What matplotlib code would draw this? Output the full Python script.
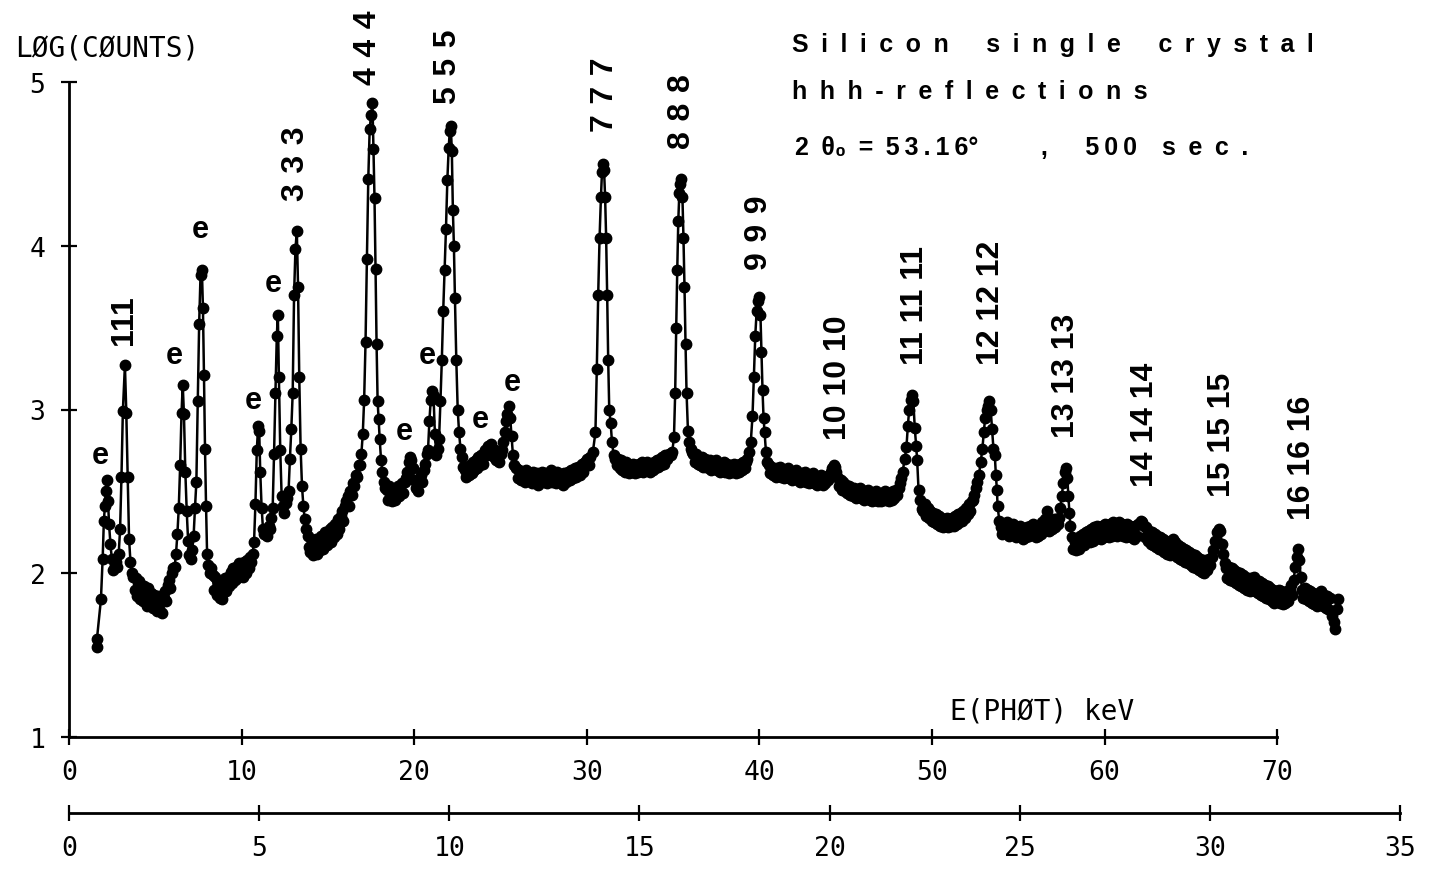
import matplotlib
matplotlib.use("Agg")
import matplotlib.pyplot as plt
from matplotlib import font_manager as fm

# ---------------- data: (E [keV], log10 counts) ----------------
seg_low = [(1.60,1.55),(1.62,1.60),(1.85,1.84),(1.95,2.09),(2.02,2.32),(2.08,2.41),(2.14,2.50),(2.20,2.57),
           (2.26,2.44),(2.32,2.30),(2.40,2.18),(2.48,2.09),(2.56,2.02),(2.64,2.05),(2.72,2.07),(2.80,2.04),
           (2.88,2.12),(2.96,2.27),(3.04,2.59),(3.12,2.99),(3.24,3.27),(3.32,2.98),(3.40,2.59),(3.48,2.21),
           (3.56,2.07),(3.64,2.00),
           (3.72,1.98),(3.80,1.90),(3.88,1.97),(3.96,1.86),(4.04,1.95),(4.12,1.84),(4.20,1.93),(4.28,1.83),
           (4.36,1.92),(4.44,1.86),(4.52,1.80),(4.60,1.91),(4.68,1.82),(4.76,1.88),(4.84,1.79),(4.92,1.87),
           (5.00,1.81),(5.08,1.77),(5.16,1.86),(5.24,1.78),(5.32,1.84),(5.40,1.76),(5.48,1.85),(5.56,1.89),
           (5.64,1.83),(5.72,1.93),(5.80,1.96),(5.88,1.91),(5.96,2.00),(6.04,2.03),(6.12,2.04),(6.20,2.12),
           (6.28,2.24),(6.36,2.40),(6.44,2.66),(6.52,2.98),(6.59,3.15),(6.66,2.97),(6.74,2.62),(6.82,2.38),
           (6.90,2.20),(6.98,2.11),(7.06,2.09),(7.14,2.14),
           (7.22,2.23),(7.30,2.40),(7.38,2.56),(7.46,3.05),(7.54,3.52),(7.62,3.82),(7.70,3.85),(7.76,3.62),
           (7.82,3.21),(7.88,2.76),(7.94,2.41),(8.00,2.12),(8.08,2.05),(8.16,2.00),(8.24,2.03)]

seg_333 = [(8.32,1.99),(8.40,1.90),(8.48,1.98),(8.56,1.87),(8.64,1.95),(8.72,1.85),(8.80,1.93),(8.88,1.84),
           (8.96,1.91),(9.04,1.97),(9.12,1.89),(9.20,1.98),(9.28,1.92),(9.36,2.01),(9.44,1.94),(9.52,2.03),
           (9.60,1.96),(9.68,2.04),(9.76,1.97),(9.84,2.06),(9.92,1.99),(10.00,2.05),(10.08,1.98),(10.16,2.07),
           (10.24,2.00),(10.32,2.08),(10.40,2.03),(10.48,2.10),(10.56,2.07),
           (10.64,2.12),(10.72,2.19),(10.80,2.42),(10.88,2.75),(10.96,2.90),(11.02,2.87),(11.08,2.62),(11.16,2.40),
           (11.24,2.27),(11.32,2.24),(11.40,2.26),(11.48,2.23),(11.56,2.29),(11.64,2.27),(11.72,2.34),(11.80,2.40),
           (11.88,2.73),(11.96,3.10),(12.04,3.45),(12.10,3.58),(12.16,3.20),(12.24,2.75),(12.32,2.47),(12.40,2.41),
           (12.48,2.37),(12.56,2.43),(12.64,2.46),(12.72,2.50),(12.80,2.70),(12.88,2.88),(12.96,3.10),(13.04,3.70),
           (13.12,3.98),(13.20,4.09),(13.27,3.75),(13.34,3.20),(13.42,2.76),(13.50,2.53),(13.58,2.41),(13.66,2.33),
           (13.74,2.27)]

seg_444 = [(13.82,2.23),(13.90,2.16),(13.98,2.13),(14.06,2.19),(14.14,2.11),(14.22,2.17),(14.30,2.21),(14.38,2.12),
           (14.46,2.19),(14.54,2.14),(14.62,2.23),(14.70,2.15),(14.78,2.22),(14.86,2.25),(14.94,2.17),(15.02,2.24),
           (15.10,2.27),(15.18,2.19),(15.26,2.28),(15.34,2.22),(15.42,2.30),(15.50,2.24),(15.58,2.33),(15.66,2.27),
           (15.74,2.35),(15.82,2.38),(15.90,2.32),(15.98,2.41),(16.06,2.44),(16.14,2.47),(16.22,2.41),(16.30,2.50),
           (16.38,2.48),(16.46,2.55),(16.54,2.53),(16.62,2.60),(16.70,2.59),(16.78,2.66),(16.86,2.66),
           (16.94,2.73),(17.02,2.85),(17.10,3.06),(17.18,3.41),(17.26,3.92),(17.34,4.41),(17.42,4.71),(17.50,4.80),
           (17.58,4.87),(17.64,4.59),(17.70,4.29),(17.76,3.86),(17.82,3.40),(17.88,3.05),(17.94,2.94),(18.00,2.82),
           (18.08,2.69),(18.16,2.62),(18.24,2.56),(18.32,2.52)]

seg_555 = [(18.40,2.51),(18.48,2.45),(18.56,2.53),(18.64,2.46),(18.72,2.44),(18.80,2.51),(18.88,2.45),(18.96,2.50),
           (19.04,2.53),(19.12,2.47),(19.20,2.52),(19.28,2.55),(19.36,2.49),(19.44,2.56),(19.52,2.58),(19.60,2.62),
           (19.68,2.68),(19.76,2.71),(19.84,2.69),(19.92,2.64),(20.00,2.57),(20.08,2.52),(20.16,2.57),(20.24,2.50),
           (20.32,2.56),(20.40,2.60),(20.48,2.56),(20.56,2.63),(20.64,2.67),(20.72,2.73),
           (20.80,2.75),(20.88,2.93),(20.96,3.06),(21.04,3.11),(21.12,3.08),(21.20,2.85),(21.28,2.72),(21.36,2.76),
           (21.44,2.82),(21.52,3.05),(21.60,3.30),(21.68,3.60),(21.76,3.85),(21.84,4.10),(21.92,4.40),(22.00,4.60),
           (22.06,4.70),(22.12,4.73),(22.18,4.58),(22.24,4.22),(22.30,4.00),(22.36,3.68),(22.44,3.30),(22.52,3.00),
           (22.60,2.86),(22.68,2.76),
           (22.76,2.71),(22.84,2.65),(22.92,2.63),(23.00,2.59),(23.08,2.65),(23.16,2.60),(23.24,2.66),(23.32,2.61),
           (23.40,2.68),(23.48,2.63),(23.56,2.69),(23.64,2.64),(23.72,2.71),(23.80,2.66),(23.88,2.72),(23.96,2.67),
           (24.04,2.73),(24.12,2.75),(24.20,2.72),(24.28,2.78),(24.36,2.73),(24.44,2.79),(24.52,2.75),(24.60,2.71),
           (24.68,2.75),(24.76,2.69),(24.84,2.73),(24.92,2.68),(25.00,2.73),(25.08,2.75),(25.16,2.80),
           (25.24,2.86),(25.32,2.93),(25.40,2.97),(25.48,3.02),(25.56,2.95),(25.64,2.84),(25.72,2.72),(25.80,2.66)]

seg_777 = [(25.90,2.64),(26.00,2.58),(26.10,2.63),(26.20,2.57),(26.30,2.62),(26.40,2.56),(26.50,2.63),(26.60,2.57),
           (26.70,2.61),(26.80,2.55),(26.90,2.62),(27.00,2.56),(27.10,2.61),(27.20,2.54),(27.30,2.60),(27.40,2.62),
           (27.50,2.56),(27.60,2.61),(27.70,2.55),(27.80,2.60),(27.90,2.63),(28.00,2.56),(28.10,2.61),(28.20,2.55),
           (28.30,2.62),(28.40,2.57),(28.50,2.60),(28.60,2.54),(28.70,2.61),(28.80,2.56),(28.90,2.62),(29.00,2.57),
           (29.10,2.63),(29.20,2.58),(29.30,2.64),(29.40,2.59),(29.50,2.65),(29.60,2.60),(29.70,2.67),(29.80,2.62),
           (29.90,2.68),(30.00,2.70),(30.10,2.66),(30.20,2.71),
           (30.35,2.74),(30.50,2.86),(30.58,3.25),(30.66,3.70),(30.74,4.05),(30.82,4.30),(30.88,4.45),(30.94,4.50),
           (31.00,4.46),(31.06,4.30),(31.12,4.05),(31.18,3.70),(31.24,3.30),(31.30,3.00),(31.38,2.92),(31.46,2.80),
           (31.56,2.72)]

seg_888 = [(31.66,2.70),(31.74,2.66),(31.82,2.70),(31.90,2.64),(31.98,2.69),(32.06,2.63),(32.14,2.67),(32.22,2.62),
           (32.30,2.68),(32.38,2.63),(32.46,2.61),(32.54,2.66),(32.62,2.62),(32.70,2.67),(32.78,2.61),(32.86,2.66),
           (32.94,2.62),(33.02,2.67),(33.10,2.63),(33.18,2.68),(33.26,2.62),(33.34,2.67),(33.42,2.63),(33.50,2.68),
           (33.58,2.64),(33.66,2.62),(33.74,2.67),(33.82,2.63),(33.90,2.68),(33.98,2.64),(34.06,2.69),(34.14,2.65),
           (34.22,2.70),(34.30,2.66),(34.38,2.71),(34.46,2.67),(34.54,2.72),(34.62,2.70),(34.74,2.73),(34.86,2.72),
           (34.95,2.74),(35.05,2.83),(35.12,3.10),(35.18,3.50),(35.24,3.85),(35.30,4.15),(35.36,4.32),(35.42,4.38),
           (35.48,4.41),(35.54,4.30),(35.60,4.05),(35.66,3.75),(35.72,3.40),(35.78,3.10),(35.86,2.87),(35.94,2.80),
           (36.02,2.76),(36.10,2.74)]

seg_999 = [(36.18,2.73),(36.26,2.68),(36.34,2.73),(36.42,2.67),(36.50,2.71),(36.58,2.66),(36.66,2.71),(36.74,2.65),
           (36.82,2.70),(36.90,2.65),(36.98,2.69),(37.06,2.64),(37.14,2.69),(37.22,2.63),(37.30,2.68),(37.38,2.64),
           (37.46,2.69),(37.54,2.63),(37.62,2.67),(37.70,2.62),(37.78,2.67),(37.86,2.63),(37.94,2.68),(38.02,2.62),
           (38.10,2.67),(38.18,2.63),(38.26,2.61),(38.34,2.66),(38.42,2.62),(38.50,2.67),(38.58,2.63),(38.66,2.61),
           (38.74,2.66),(38.82,2.62),(38.90,2.67),(38.98,2.63),(39.06,2.68),(39.14,2.64),(39.22,2.68),(39.30,2.70),
           (39.40,2.74),(39.50,2.80),(39.60,2.96),(39.68,3.20),(39.76,3.45),(39.84,3.60),(39.92,3.66),(40.00,3.69),
           (40.06,3.58),(40.12,3.35),(40.18,3.12),(40.24,2.95),(40.30,2.86),(40.38,2.74),(40.46,2.68)]

seg_mid = [(40.54,2.66),(40.62,2.61),(40.70,2.65),(40.78,2.60),(40.86,2.64),(40.94,2.59),(41.02,2.64),(41.10,2.60),
           (41.18,2.65),(41.26,2.59),(41.34,2.63),(41.42,2.58),(41.50,2.63),(41.58,2.59),(41.66,2.64),(41.74,2.58),
           (41.82,2.62),(41.90,2.57),(41.98,2.62),(42.06,2.58),(42.14,2.63),(42.22,2.57),(42.30,2.61),(42.38,2.56),
           (42.46,2.61),(42.54,2.57),(42.62,2.62),(42.70,2.56),(42.78,2.60),(42.86,2.55),(42.94,2.60),(43.02,2.56),
           (43.10,2.61),(43.18,2.55),(43.26,2.59),(43.34,2.54),(43.42,2.59),(43.50,2.55),(43.58,2.60),(43.66,2.54),
           (43.74,2.58),(43.82,2.55),(43.90,2.59),(43.98,2.57),(44.06,2.60),(44.14,2.62),(44.22,2.64),(44.30,2.66),
           (44.38,2.65),(44.46,2.62),(44.54,2.58),(44.62,2.53),(44.70,2.57),(44.78,2.51),(44.86,2.56),(44.94,2.50),
           (45.02,2.54),(45.10,2.49),(45.18,2.53),(45.26,2.48),(45.34,2.52),(45.42,2.47),(45.50,2.52),(45.58,2.46),
           (45.66,2.51),(45.74,2.47),(45.82,2.52),(45.90,2.46),(45.98,2.50),(46.06,2.45),(46.14,2.50),(46.22,2.46),
           (46.30,2.51),(46.38,2.45),(46.46,2.49),(46.54,2.44),(46.62,2.49),(46.70,2.45),(46.78,2.50),(46.86,2.44),
           (46.94,2.48),(47.02,2.44),(47.10,2.49),(47.18,2.45),(47.26,2.50),(47.34,2.45),(47.42,2.49),(47.50,2.44),
           (47.58,2.49),(47.66,2.45),(47.74,2.50),(47.82,2.46),(47.90,2.51),(47.98,2.48),(48.06,2.52),(48.14,2.55),
           (48.22,2.58)]

seg_high = [(48.30,2.62),(48.42,2.70),(48.52,2.77),(48.60,2.90),(48.68,3.00),(48.76,3.06),(48.84,3.09),(48.92,3.05),
            (49.00,2.89),(49.08,2.78),(49.14,2.69),(49.22,2.51),(49.32,2.45),(49.42,2.39),
            (49.50,2.38),(49.58,2.42),(49.66,2.35),(49.74,2.40),(49.82,2.34),(49.90,2.38),(49.98,2.32),(50.06,2.37),
            (50.14,2.31),(50.22,2.36),(50.30,2.30),(50.38,2.35),(50.46,2.29),(50.54,2.34),(50.62,2.28),(50.70,2.33),
            (50.78,2.29),(50.86,2.34),(50.94,2.28),(51.02,2.33),(51.10,2.29),(51.18,2.34),(51.26,2.29),(51.34,2.35),
            (51.42,2.30),(51.50,2.36),(51.58,2.31),(51.66,2.37),(51.74,2.32),(51.82,2.38),(51.90,2.34),(51.98,2.40),
            (52.06,2.36),(52.14,2.42),(52.22,2.38),(52.30,2.44),(52.38,2.45),(52.46,2.48),(52.54,2.52),(52.62,2.56),
            (52.72,2.60),(52.82,2.68),(52.92,2.76),(53.00,2.86),(53.08,2.95),(53.16,3.00),(53.24,3.02),(53.32,3.05),
            (53.40,3.00),(53.48,2.88),(53.56,2.76),(53.64,2.72),(53.70,2.60),(53.76,2.51),(53.80,2.41),
            (53.90,2.32),(54.00,2.28),(54.08,2.24),(54.16,2.30),(54.24,2.25),(54.32,2.31),(54.40,2.26),(54.48,2.23),
            (54.56,2.29),(54.64,2.24),(54.72,2.30),(54.80,2.25),(54.88,2.22),(54.96,2.28),(55.04,2.23),(55.12,2.29),
            (55.20,2.24),(55.28,2.21),(55.36,2.27),(55.44,2.22),(55.52,2.28),(55.60,2.23),(55.68,2.29),(55.76,2.24),
            (55.84,2.30),(55.92,2.25),(56.00,2.22),(56.08,2.28),(56.16,2.23),(56.24,2.29),(56.32,2.24),(56.40,2.31),
            (56.48,2.26),(56.56,2.33),(56.64,2.38),(56.72,2.30),(56.80,2.26),(56.88,2.32),(56.96,2.27),(57.04,2.33),
            (57.12,2.28),(57.20,2.33),(57.28,2.30)]

seg_tail = [(57.36,2.34),(57.44,2.40),(57.52,2.47),(57.60,2.55),(57.68,2.62),(57.76,2.64),(57.84,2.58),(57.90,2.47),
            (57.96,2.37),(58.02,2.29),(58.10,2.22),(58.18,2.15),
            (58.26,2.19),(58.34,2.14),(58.42,2.21),(58.50,2.15),(58.58,2.23),(58.66,2.17),(58.74,2.24),(58.82,2.17),
            (58.90,2.25),(58.98,2.19),(59.06,2.26),(59.14,2.19),(59.22,2.27),(59.30,2.20),(59.38,2.28),(59.46,2.21),
            (59.54,2.29),(59.62,2.22),(59.70,2.28),(59.78,2.21),(59.86,2.29),(59.94,2.22),(60.02,2.30),(60.10,2.23),
            (60.18,2.29),(60.26,2.22),(60.34,2.30),(60.42,2.23),(60.50,2.31),(60.58,2.24),(60.66,2.30),(60.74,2.23),
            (60.82,2.31),(60.90,2.24),(60.98,2.30),(61.06,2.23),(61.14,2.29),(61.22,2.22),(61.30,2.30),(61.38,2.23),
            (61.46,2.29),(61.54,2.22),(61.62,2.28),(61.70,2.21),(61.78,2.29),(61.86,2.23),(61.94,2.30),(62.02,2.30),
            (62.10,2.32),(62.18,2.31),(62.26,2.29),(62.34,2.22),(62.42,2.28),(62.50,2.20),(62.58,2.26),(62.66,2.18),
            (62.74,2.25),(62.82,2.17),(62.90,2.24),(62.98,2.16),(63.06,2.23),(63.14,2.15),(63.22,2.22),(63.30,2.14),
            (63.38,2.21),(63.46,2.13),(63.54,2.20),(63.62,2.12),(63.70,2.19),(63.78,2.11),(63.86,2.18),(63.94,2.21),
            (64.02,2.12),(64.10,2.19),(64.18,2.10),(64.26,2.17),(64.34,2.09),(64.42,2.16),(64.50,2.08),(64.58,2.15),
            (64.66,2.07),(64.74,2.14),(64.82,2.06),(64.90,2.13),(64.98,2.05),(65.06,2.12),(65.14,2.04),(65.22,2.11),
            (65.30,2.03),(65.38,2.10),(65.46,2.02),(65.54,2.09),(65.62,2.01),(65.70,2.08),(65.78,2.00),(65.86,2.08),
            (65.94,2.02),(66.02,2.09),(66.10,2.05),(66.20,2.10),(66.30,2.14),(66.40,2.20),(66.50,2.25),(66.60,2.27),
            (66.70,2.26),(66.80,2.18),(66.88,2.12),(66.96,2.06),
            (67.04,2.03),(67.12,1.97),(67.20,2.04),(67.28,1.96),(67.36,2.03),(67.44,1.95),(67.52,2.02),(67.60,1.94),
            (67.68,2.01),(67.76,1.93),(67.84,2.00),(67.92,1.92),(68.00,1.99),(68.08,1.91),(68.16,1.98),(68.24,1.90),
            (68.32,1.97),(68.40,1.89),(68.48,1.97),(68.56,1.90),(68.64,1.98),(68.72,1.89),(68.80,1.96),(68.88,1.88),
            (68.96,1.95),(69.04,1.87),(69.12,1.94),(69.20,1.86),(69.28,1.93),(69.36,1.85),(69.44,1.92),(69.52,1.84),
            (69.60,1.91),(69.68,1.83),(69.76,1.90),(69.84,1.82),(69.92,1.89),(70.00,1.83),(70.08,1.90),(70.16,1.82),
            (70.24,1.89),(70.32,1.81),(70.40,1.88),(70.48,1.82),(70.56,1.89),(70.64,1.83),(70.72,1.90),(70.80,1.93),
            (70.88,1.87),(70.96,1.96),(71.04,2.04),(71.12,2.10),(71.20,2.15),(71.28,2.08),(71.36,1.98),(71.44,1.90),
            (71.52,1.85),(71.60,1.91),(71.68,1.84),(71.76,1.90),(71.84,1.83),(71.92,1.89),(72.00,1.82),(72.08,1.88),
            (72.16,1.81),(72.24,1.87),(72.32,1.80),(72.40,1.88),(72.48,1.81),(72.56,1.89),(72.64,1.80),(72.72,1.87),
            (72.80,1.79),(72.88,1.86),(72.96,1.78),(73.04,1.85),(73.12,1.77),(73.20,1.74),(73.28,1.70),(73.36,1.66),
            (73.44,1.78),(73.52,1.84)]

segments = [seg_low, seg_333, seg_444, seg_555, seg_777, seg_888, seg_999, seg_mid, seg_high, seg_tail]

# reflection labels: (text, E position, log-count at label bottom)
hkl_labels = [("111", 3.19, 3.40), ("333", 13.15, 4.28), ("444", 17.30, 4.99), ("555", 21.95, 4.87),
              ("777", 31.05, 4.70), ("888", 35.50, 4.60), ("999", 40.00, 3.86),
              ("10 10 10", 44.55, 2.82), ("11 11 11", 49.00, 3.28), ("12 12 12", 53.40, 3.28),
              ("13 13 13", 57.76, 2.83), ("14 14 14", 62.34, 2.53), ("15 15 15", 66.80, 2.47),
              ("16 16 16", 71.44, 2.33)]
# escape-peak labels "e": (E, log-count centre)
e_labels = [(1.80, 2.72), (6.08, 3.33), (7.59, 4.10), (10.66, 3.06), (11.82, 3.77),
            (19.41, 2.87), (20.74, 3.33), (23.81, 2.94), (25.67, 3.17)]

x_ticks = [0, 10, 20, 30, 40, 50, 60, 70]
y_ticks = [1, 2, 3, 4, 5]
x2_ticks = [0, 5, 10, 15, 20, 25, 30, 35]

EN = '\u2002'    # en space   (letter spacing of the annotation)
TPE = '\u2004'   # 1/3-em space (digit spacing of hhh labels)
TS = '\u2009'    # thin space


def tracked(s, gap=EN):
    return gap.join(s)


# ---------------- figure ----------------
W, H = 1434, 878
fig = plt.figure(figsize=(W / 100, H / 100), dpi=100)
PX_PER_KEV = 17.26
ax = fig.add_axes([69 / W, 140 / H, 76 * PX_PER_KEV / W, 655 / H])
ax.set_xlim(0, 76)
ax.set_ylim(1, 5)
for s in ('top', 'right'):
    ax.spines[s].set_visible(False)
ax.spines['left'].set_bounds(1, 5)
ax.spines['bottom'].set_bounds(0, 70)
for s in ('left', 'bottom'):
    ax.spines[s].set_linewidth(2)
ax.set_xticks(x_ticks)
ax.set_yticks(y_ticks)
ax.tick_params(direction='inout', length=12, width=1.6, labelsize=19)
ax.tick_params(axis='x', pad=10)
ax.tick_params(axis='y', pad=11)
for lab in ax.get_xticklabels() + ax.get_yticklabels():
    lab.set_fontfamily('DejaVu Sans Mono')

for seg in segments:
    E = [p[0] for p in seg]
    L = [p[1] for p in seg]
    ax.plot(E, L, '-', color='black', lw=1.8, clip_on=False, zorder=2)
    ax.plot(E, L, 'o', color='black', ms=7.5, clip_on=False, zorder=3)
for a, b in zip(segments[:-1], segments[1:]):
    ax.plot([a[-1][0], b[0][0]], [a[-1][1], b[0][1]], '-', color='black', lw=1.8, clip_on=False)

label_texts = []
for txt, e, l in hkl_labels:
    shown = tracked(txt, TPE) if (len(txt) == 3 and txt != "111") else txt
    label_texts.append(ax.text(e, l, shown, rotation=90, ha='center', va='bottom', fontsize=23,
                               family=['Liberation Sans'], fontweight='bold', clip_on=False))
for e, l in e_labels:
    label_texts.append(ax.text(e, l, 'e', ha='center', va='center', fontsize=22,
                               family=['Liberation Sans'], fontweight='bold', clip_on=False))

# axis titles in plotter style
fig.text(15 / W, 1 - 48 / H, 'LØG(CØUNTS)', fontsize=20, family=['DejaVu Sans Mono'],
         ha='left', va='center')
fig.text(950 / W, 1 - 712 / H, 'E(PHØT) keV', fontsize=20, family=['DejaVu Sans Mono'],
         ha='left', va='center')

# annotation block (letter-spaced)
tk = dict(fontsize=18, family=['Liberation Sans'], fontweight='bold', ha='left', va='center')
line1 = tracked('Silicon') + EN * 3 + tracked('single') + EN * 3 + tracked('crystal')
line2 = tracked('hhh') + EN + '-' + EN + tracked('reflections')
line3 = ('2' + EN + 'θ₀' + EN + '=' + EN + tracked('53.16', TS) + '°' + EN * 5 + ','
         + EN * 3 + tracked('500', TS) + EN * 2 + tracked('sec.'))
for y, s in ((45, line1), (92, line2), (148, line3)):
    label_texts.append(fig.text(792 / W if y != 148 else 795 / W, 1 - y / H, s, **tk))

for t in label_texts:
    path = fm.findfont(t.get_fontproperties())
    assert 'Liberation' in path, path

# second scale below
ax2 = fig.add_axes([69 / W, 64 / H, (1400 - 69) / W, 0.01])
ax2.set_xlim(0, 35)
ax2.set_ylim(0, 1)
for s in ('top', 'right', 'left'):
    ax2.spines[s].set_visible(False)
ax2.spines['bottom'].set_linewidth(2)
ax2.set_yticks([])
ax2.set_xticks(x2_ticks)
ax2.tick_params(axis='x', direction='inout', length=12, width=1.6, labelsize=19, pad=10)
for lab in ax2.get_xticklabels():
    lab.set_fontfamily('DejaVu Sans Mono')
ax2.patch.set_visible(False)

fig.savefig('out.png', dpi=100)
